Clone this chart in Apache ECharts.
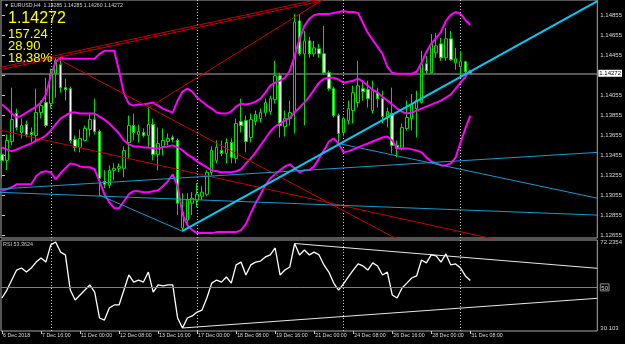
<!DOCTYPE html>
<html><head><meta charset="utf-8">
<script src="https://cdn.jsdelivr.net/npm/echarts@6/dist/echarts.min.js"></script>
<style>html,body{margin:0;padding:0;background:#000;}#c{width:625px;height:344px;}</style>
</head><body><div id="c"></div>
<script>
// ---- time axis labels (bar index -> label) ----
const tickIdx = [0, 8, 16, 24, 32, 40, 48, 56, 64, 72, 80, 88, 96];
const tickLabels = ['6 Dec 2018', '7 Dec 16:00', '11 Dec 00:00', '12 Dec 08:00', '13 Dec 16:00', '17 Dec 00:00',
  '18 Dec 08:00', '19 Dec 16:00', '21 Dec 00:00', '24 Dec 08:00', '26 Dec 16:00', '28 Dec 00:00', '31 Dec 08:00'];
const weekStarts = [10, 40, 70, 94];

// ---- EURUSD H4 candles ----
const open = [1.13461,1.13401,1.13590,1.13869,1.13680,1.13760,1.13680,1.13650,1.13879,1.13979,
1.13969,1.14267,1.14357,1.14128,1.14118,1.13610,1.13531,1.13600,1.13710,1.13809,
1.13690,1.13192,1.13152,1.13302,1.13322,1.13322,1.13580,1.13750,1.13660,1.13680,
1.13650,1.13760,1.13461,1.13541,1.13590,1.13630,1.13600,1.12724,1.12804,1.12973,
1.13003,1.13043,1.13063,1.13282,1.13401,1.13501,1.13471,1.13580,1.13421,1.13789,
1.13799,1.13630,1.13789,1.13819,1.13879,1.13889,1.14008,1.14247,1.13740,1.13819,
1.13879,1.14795,1.14466,1.14596,1.14466,1.14516,1.14466,1.14277,1.14118,1.13849,
1.13680,1.13799,1.13899,1.13979,1.14118,1.14108,1.13899,1.14078,1.14018,1.13829,
1.13869,1.13551,1.13521,1.13720,1.13819,1.13919,1.13979,1.14367,1.14277,1.14476,
1.14566,1.14427,1.14616,1.14377,1.14337,1.14387,1.14285];
const high = [1.13531,1.13660,1.14128,1.13919,1.13819,1.13799,1.13730,1.14118,1.13999,1.14227,
1.14317,1.14427,1.14417,1.14218,1.14138,1.13650,1.13710,1.13750,1.13869,1.14018,
1.13710,1.13302,1.13351,1.13371,1.13371,1.13541,1.13849,1.13869,1.13760,1.13720,
1.13939,1.13819,1.13730,1.13720,1.13670,1.13650,1.13620,1.13073,1.13073,1.13083,
1.13172,1.13142,1.13302,1.13541,1.13600,1.13600,1.13620,1.13620,1.13819,1.14018,
1.13849,1.13869,1.13899,1.13919,1.14018,1.14048,1.14397,1.14277,1.13899,1.13999,
1.14865,1.14865,1.14695,1.14636,1.14596,1.14566,1.14745,1.14297,1.14138,1.13869,
1.13839,1.13999,1.14148,1.14397,1.14198,1.14198,1.14198,1.14128,1.14098,1.13929,
1.14128,1.13600,1.13770,1.13999,1.14064,1.14098,1.14496,1.14446,1.14665,1.14675,
1.14626,1.14725,1.14695,1.14526,1.14496,1.14397,1.14285];
const low = [1.13222,1.13302,1.13551,1.13700,1.13620,1.13630,1.13580,1.13580,1.13819,1.13730,
1.13919,1.14028,1.14078,1.13999,1.13570,1.13491,1.13481,1.13590,1.13640,1.13660,
1.13043,1.13122,1.13122,1.13202,1.13282,1.13232,1.13421,1.13600,1.13580,1.13630,
1.13521,1.13401,1.13302,1.13451,1.13551,1.13580,1.12854,1.12694,1.12754,1.12854,
1.12933,1.13003,1.13043,1.13252,1.13371,1.13441,1.13371,1.13371,1.13371,1.13680,
1.13481,1.13580,1.13750,1.13779,1.13839,1.13859,1.13969,1.13630,1.13640,1.13750,
1.13670,1.14446,1.13750,1.14427,1.14437,1.14427,1.14257,1.14098,1.13829,1.13570,
1.13640,1.13760,1.13770,1.13929,1.13999,1.13929,1.13869,1.13929,1.13770,1.13730,
1.13471,1.13431,1.13501,1.13700,1.13700,1.13630,1.13969,1.14267,1.14267,1.14427,
1.14397,1.14397,1.14397,1.14307,1.14257,1.14218,1.14260];
const close = [1.13401,1.13600,1.13809,1.13730,1.13750,1.13660,1.13660,1.13879,1.13949,1.13750,
1.14267,1.14397,1.14128,1.14108,1.13600,1.13531,1.13620,1.13720,1.13809,1.13690,
1.13222,1.13162,1.13302,1.13322,1.13341,1.13501,1.13750,1.13680,1.13690,1.13650,
1.13760,1.13461,1.13570,1.13600,1.13620,1.13610,1.12973,1.12884,1.13003,1.13023,
1.13063,1.13083,1.13282,1.13501,1.13531,1.13471,1.13580,1.13431,1.13770,1.13750,
1.13590,1.13809,1.13859,1.13879,1.13979,1.14018,1.14247,1.13750,1.13819,1.13879,
1.14785,1.14466,1.14596,1.14466,1.14526,1.14466,1.14277,1.14118,1.13849,1.13670,
1.13819,1.13919,1.14078,1.14148,1.14088,1.14018,1.14098,1.14018,1.13839,1.13889,
1.13551,1.13521,1.13730,1.13829,1.13959,1.13999,1.14367,1.14297,1.14566,1.14546,
1.14427,1.14616,1.14407,1.14417,1.14387,1.14287,1.14272];

// ---- Bollinger bands ----
const bbUpper = [1.13959,1.13919,1.13869,1.13829,1.13849,1.13879,1.13909,1.13939,1.13979,1.14058,
1.14247,1.14387,1.14427,1.14417,1.14417,1.14417,1.14417,1.14417,1.14417,1.14417,
1.14466,1.14496,1.14496,1.14496,1.14297,1.14068,1.13969,1.13949,1.13959,1.13959,
1.13969,1.13979,1.13949,1.13919,1.13899,1.13879,1.13999,1.14088,1.14118,1.14088,
1.14028,1.13989,1.13949,1.13919,1.13879,1.13869,1.13869,1.13889,1.13939,1.13969,
1.13959,1.13969,1.13989,1.14018,1.14078,1.14148,1.14178,1.14198,1.14227,1.14297,
1.14446,1.14616,1.14745,1.14815,1.14855,1.14865,1.14865,1.14865,1.14875,1.14884,
1.14894,1.14884,1.14884,1.14875,1.14775,1.14675,1.14606,1.14536,1.14466,1.14337,
1.14277,1.14267,1.14267,1.14267,1.14267,1.14287,1.14377,1.14486,1.14566,1.14626,
1.14685,1.14795,1.14855,1.14884,1.14865,1.14805,1.14755];
const bbMiddle = [1.13531,1.13511,1.13491,1.13511,1.13531,1.13551,1.13570,1.13600,1.13620,1.13650,
1.13700,1.13760,1.13819,1.13849,1.13879,1.13879,1.13869,1.13869,1.13869,1.13869,
1.13839,1.13809,1.13770,1.13720,1.13670,1.13600,1.13560,1.13541,1.13541,1.13531,
1.13531,1.13521,1.13521,1.13531,1.13541,1.13551,1.13531,1.13501,1.13461,1.13431,
1.13391,1.13361,1.13332,1.13302,1.13292,1.13282,1.13282,1.13282,1.13292,1.13312,
1.13371,1.13421,1.13481,1.13551,1.13620,1.13690,1.13740,1.13770,1.13799,1.13829,
1.13879,1.13929,1.13979,1.14038,1.14108,1.14178,1.14218,1.14227,1.14227,1.14208,
1.14178,1.14188,1.14198,1.14218,1.14188,1.14148,1.14108,1.14078,1.14038,1.13999,
1.13959,1.13919,1.13889,1.13869,1.13879,1.13899,1.13919,1.13939,1.13959,1.13979,
1.13999,1.14028,1.14058,1.14118,1.14178,1.14237,1.14307];
const bbLower = [1.13103,1.13113,1.13132,1.13162,1.13162,1.13162,1.13162,1.13242,1.13282,1.13292,
1.13282,1.13212,1.13272,1.13322,1.13371,1.13361,1.13341,1.13332,1.13332,1.13312,
1.13192,1.13063,1.12983,1.12923,1.12923,1.12993,1.13063,1.13093,1.13093,1.13083,
1.13083,1.13093,1.13103,1.13142,1.13192,1.13262,1.13142,1.12864,1.12754,1.12704,
1.12674,1.12674,1.12674,1.12674,1.12684,1.12684,1.12684,1.12684,1.12684,1.12704,
1.12764,1.12874,1.12973,1.13063,1.13152,1.13222,1.13262,1.13302,1.13341,1.13361,
1.13322,1.13282,1.13302,1.13302,1.13341,1.13421,1.13501,1.13590,1.13620,1.13570,
1.13481,1.13491,1.13511,1.13531,1.13551,1.13570,1.13590,1.13610,1.13630,1.13640,
1.13600,1.13521,1.13521,1.13521,1.13511,1.13501,1.13481,1.13431,1.13391,1.13371,
1.13351,1.13351,1.13371,1.13431,1.13580,1.13720,1.13849];

// ---- RSI ----
const rsi = [44.8,48.7,53.6,58.5,59.5,57.5,59.5,62.4,64.4,62.4,
70.8,72.2354,67.3,65.9,48.7,43.8,46.3,48.7,51.2,47.7,
35.0,34.0,39.9,41.4,41.4,48.7,56.1,52.6,53.6,52.6,
57.5,47.7,51.2,50.7,51.2,51.2,35.0,30.103,35.0,36.0,
37.9,38.9,44.8,52.1,53.6,52.6,55.1,52.1,61.0,62.4,
56.1,61.0,62.4,62.9,64.9,65.9,69.3,56.1,58.5,60.0,
71.5,65.9,68.3,65.9,67.3,65.9,61.0,57.5,52.1,48.7,
51.7,55.1,58.5,61.5,60.5,58.5,62.0,60.5,56.1,57.5,
46.3,44.8,49.7,52.1,54.6,55.6,63.4,62.0,65.9,65.4,
62.4,66.4,61.0,61.5,59.5,55.6,53.3624];

// ---- axis tick values ----
const priceTicks = [1.12655,1.12855,1.13055,1.13255,1.13455,1.13655,1.13855,1.14055,1.14255,1.14455,1.14655,1.14855];
const priceLabels = [1.12655,1.12855,1.13055,1.13255,1.13455,1.13655,1.13855,1.14055,1.14455,1.14655,1.14855];
const rsiTicks = [30.103, 50, 72.2354];
const rsiTickText = ['30.103', '50', '72.2354'];
const lastPrice = 1.14272;

// ---- drawn trendlines: [barIndex1, value1, barIndex2, value2] ----
const redLines = [
  [-0.41, 1.14330, 65.3, 1.15015],
  [-0.41, 1.14307, 65.3, 1.14992],
  [11.43, 1.14417, 122.04, 1.11550],
  [-1.02, 1.13710, 122.04, 1.12386],
  [29.8, 1.13919, 67, 1.15044]
];
const blueLines = [
  [-1.02, 1.13083, 122.04, 1.12854],
  [-1.02, 1.13113, 122.04, 1.13481],
  [20, 1.13053, 36.94, 1.12694],
  [69, 1.13570, 122.04, 1.13023]
];
const cyanLines = [[36.94, 1.12694, 122.04, 1.14994]];
const rsiLines = [[60, 71.5, 122.04, 59.35], [37, 30.103, 122.04, 44.65]];

// ---- build ----
const X_MIN = -0.204, X_MAX = 122.041;
const P_MIN = 1.126251, P_MAX = 1.150044;
const R_MIN = 28.635, R_MAX = 73.215;
const FONT = 'Liberation Sans';

const candleData = open.map((o, i) => [i, o, close[i], low[i], high[i]]);
const idxSeries = arr => arr.map((v, i) => [i, v]);
function segSeries(list, color, width, xi, yi, z) {
  return list.map(s => ({
    type: 'line', xAxisIndex: xi, yAxisIndex: yi, data: [[s[0], s[1]], [s[2], s[3]]],
    symbol: 'none', silent: true, clip: true, z: z,
    lineStyle: { color: color, width: width }
  }));
}
const sepStyle = { color: '#d0d0d0', type: [1, 2], width: 1 };
const sepLines = weekStarts.map(w => ({ xAxis: w, lineStyle: sepStyle }));

const option = {
  backgroundColor: '#000000',
  animation: false,
  textStyle: { fontFamily: FONT },
  grid: [
    { left: 1, right: 25, top: -1, height: 239, show: true, borderColor: '#a8a8a8', borderWidth: 1, backgroundColor: 'transparent' },
    { left: 1, right: 25, top: 240, height: 91, show: true, borderColor: '#a8a8a8', borderWidth: 1, backgroundColor: 'transparent' }
  ],
  xAxis: [
    { type: 'value', gridIndex: 0, min: X_MIN, max: X_MAX, axisLine: { show: false }, axisTick: { show: false },
      axisLabel: { show: false }, splitLine: { show: false } },
    { type: 'value', gridIndex: 1, min: X_MIN, max: X_MAX, axisLine: { show: false },
      axisTick: { show: true, length: 3, customValues: tickIdx, lineStyle: { color: '#c8c8c8' } },
      axisLabel: { show: true, customValues: tickIdx, align: 'left', margin: 2, padding: [0, 0, 0, 1],
        color: '#d8d8d8', fontSize: 5.3, fontFamily: FONT,
        formatter: v => { const k = tickIdx.indexOf(Math.round(v)); return k >= 0 ? tickLabels[k] : ''; } },
      splitLine: { show: false } }
  ],
  yAxis: [
    { type: 'value', gridIndex: 0, position: 'right', min: P_MIN, max: P_MAX, axisLine: { show: false },
      axisTick: { show: true, length: 3, customValues: priceTicks, lineStyle: { color: '#c8c8c8' } },
      axisLabel: { show: true, customValues: priceLabels, margin: 3, color: '#d8d8d8', fontSize: 6, fontFamily: FONT,
        formatter: v => v.toFixed(5) },
      splitLine: { show: false } },
    { type: 'value', gridIndex: 1, position: 'right', min: R_MIN, max: R_MAX, axisLine: { show: false },
      axisTick: { show: false },
      axisLabel: { show: true, customValues: rsiTicks, margin: 3, color: '#d8d8d8', fontSize: 6, fontFamily: FONT,
        formatter: v => { let b = 0; rsiTicks.forEach((t, k) => { if (Math.abs(t - v) < Math.abs(rsiTicks[b] - v)) b = k; });
          return rsiTicks[b] === 50 ? '{b|50}' : rsiTickText[b]; },
        rich: { b: { borderColor: '#8a8a8a', borderWidth: 1, padding: [1, 1, 0, 1], fontSize: 6, color: '#d8d8d8', fontFamily: FONT } } },
      splitLine: { show: false } }
  ],
  series: [
    { type: 'candlestick', xAxisIndex: 0, yAxisIndex: 0, data: candleData, encode: { x: 0, y: [1, 2, 3, 4] },
      barWidth: 3, z: 2,
      itemStyle: { color: '#000000', color0: '#ffffff', borderColor: '#00dd00', borderColor0: '#00dd00', borderWidth: 1 } },
    { type: 'line', xAxisIndex: 0, yAxisIndex: 0, data: idxSeries(bbUpper), symbol: 'none', z: 3, lineStyle: { color: '#ff00ff', width: 2 } },
    { type: 'line', xAxisIndex: 0, yAxisIndex: 0, data: idxSeries(bbMiddle), symbol: 'none', z: 3, lineStyle: { color: '#ff00ff', width: 2 },
      markLine: { silent: true, symbol: ['none', 'none'], precision: 5, label: { show: false }, z: 1,
        data: sepLines.concat([
          { yAxis: lastPrice, lineStyle: { color: '#747474', width: 1.5, type: 'solid' },
            label: { show: true, position: 'end', distance: 1, formatter: lastPrice.toFixed(5), backgroundColor: '#ffffff',
              color: '#000000', fontSize: 6, fontFamily: FONT, padding: [1, 1, 0, 1] } }
        ]) } },
    { type: 'line', xAxisIndex: 0, yAxisIndex: 0, data: idxSeries(bbLower), symbol: 'none', z: 3, lineStyle: { color: '#ff00ff', width: 2 } }
  ].concat(segSeries(redLines, '#cc0000', 1, 0, 0, 4))
   .concat(segSeries(blueLines, '#1c98d0', 1, 0, 0, 4))
   .concat(segSeries(cyanLines, '#00ccf8', 2, 0, 0, 4))
   .concat([
    { type: 'line', xAxisIndex: 1, yAxisIndex: 1, data: idxSeries(rsi), symbol: 'none', z: 3,
      lineStyle: { color: '#ffffff', width: 1.3 },
      markLine: { silent: true, symbol: ['none', 'none'], precision: 4, label: { show: false },
        data: sepLines.concat([
          { yAxis: 50, lineStyle: { color: '#808080', width: 1, type: 'solid' } }]) } }
  ]).concat(segSeries(rsiLines, '#e8e8e8', 1, 1, 1, 4)),
  graphic: [
    { type: 'text', x: 4, y: 6, z: 100, style: { text: '\u25BC EURUSD,H4  1.14285 1.14285 1.14260 1.14272', fill: '#d0d0d0',
      font: '5.2px "Liberation Sans"', verticalAlign: 'middle', textVerticalAlign: 'middle' } },
    { type: 'text', x: 8, y: 19, z: 100, style: { text: '1.14272', fill: '#ffff00', font: '16px "Liberation Sans"', verticalAlign: 'middle', textVerticalAlign: 'middle' } },
    { type: 'text', x: 8, y: 34.5, z: 100, style: { text: '157.24', fill: '#ffff00', font: '13px "Liberation Sans"', verticalAlign: 'middle', textVerticalAlign: 'middle' } },
    { type: 'text', x: 8, y: 46, z: 100, style: { text: '28.90', fill: '#ffff00', font: '13px "Liberation Sans"', verticalAlign: 'middle', textVerticalAlign: 'middle' } },
    { type: 'text', x: 8, y: 58.5, z: 100, style: { text: '18.38%', fill: '#ffff00', font: '13px "Liberation Sans"', verticalAlign: 'middle', textVerticalAlign: 'middle' } },
    { type: 'text', x: 3, y: 244.5, z: 100, style: { text: 'RSI 53.3624', fill: '#d0d0d0', font: '5.4px "Liberation Sans"', verticalAlign: 'middle', textVerticalAlign: 'middle' } }
  ]
};
const chart = echarts.init(document.getElementById('c'), null, { renderer: 'canvas' });
chart.setOption(option);
</script></body></html>
